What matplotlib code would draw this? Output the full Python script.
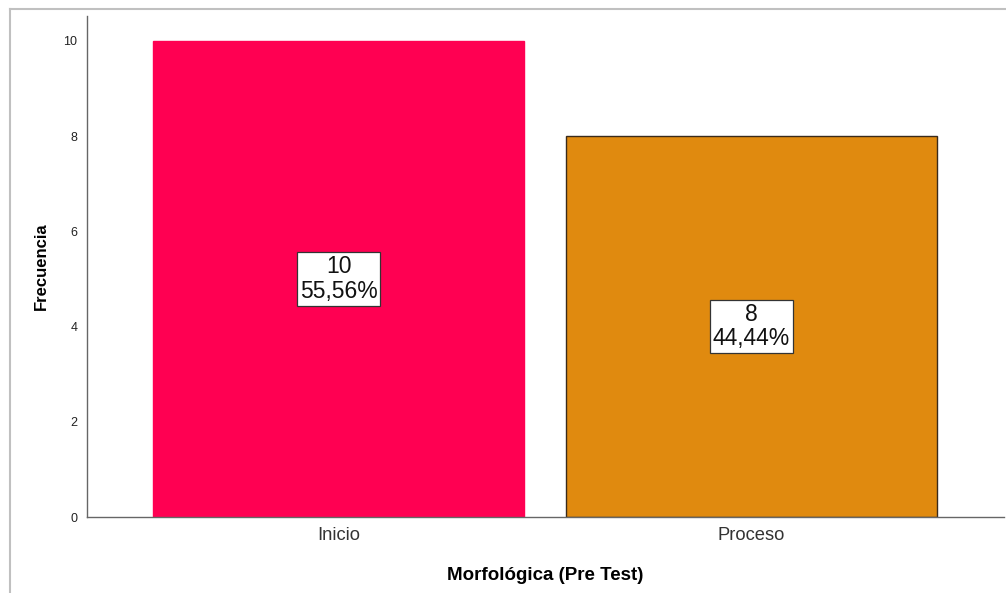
import matplotlib
matplotlib.use("Agg")
import matplotlib.pyplot as plt
from matplotlib.lines import Line2D

plt.rcParams['font.family'] = ['Liberation Sans', 'DejaVu Sans']

categories = ["Inicio", "Proceso"]
counts = [10, 8]
percents = ["55,56%", "44,44%"]
colors = ["#FF0052", "#E08A0F"]
edges = ["#FF0052", "#3A2A1A"]
yticks = [0, 2, 4, 6, 8, 10]

W, H = 1006, 593
fig = plt.figure(figsize=(W / 100, H / 100), dpi=100)
ax = fig.add_axes([87 / W, 1 - 517 / H, (1004 - 87) / W, (517 - 16) / H])

x = list(range(len(categories)))
ax.bar(x, counts, width=0.898, color=colors, edgecolor=edges, linewidth=1.0, zorder=2)

for xi, c, p in zip(x, counts, percents):
    ax.text(xi, c / 2, f"{c}\n{p}", ha="center", va="center", fontsize=16.5,
            color="#111111", linespacing=1.1, zorder=3,
            bbox=dict(boxstyle="square,pad=0.13", facecolor="white",
                      edgecolor="#333333", linewidth=0.9))

ax.set_xlim(-0.609, 1.611)
ax.set_ylim(0, 10.525)
ax.set_yticks(yticks)
ax.set_yticklabels([str(t) for t in yticks], fontsize=9, color="#222222")
ax.set_xticks(x)
ax.set_xticklabels(categories, fontsize=13.2, color="#333333")
ax.tick_params(axis="both", length=0)
ax.tick_params(axis="y", pad=7)
ax.tick_params(axis="x", pad=7)

for s in ["top", "right"]:
    ax.spines[s].set_visible(False)
for s in ["left", "bottom"]:
    ax.spines[s].set_color("#666666")
    ax.spines[s].set_linewidth(1.0)

ax.set_ylabel("Frecuencia", fontsize=12, fontweight="bold")
ax.set_xlabel("Morfológica (Pre Test)", fontsize=13.5, fontweight="bold", labelpad=17)
ax.yaxis.set_label_coords(-38 / (1004 - 87), 0.5)

# outer frame
fig.add_artist(Line2D([10 / W, 10 / W], [0, 1 - 9 / H], transform=fig.transFigure,
                      color="#C0C0C0", linewidth=1.5))
fig.add_artist(Line2D([10 / W, 1], [1 - 9 / H, 1 - 9 / H], transform=fig.transFigure,
                      color="#C0C0C0", linewidth=1.5))

fig.savefig("out.png", dpi=100, facecolor="white")
